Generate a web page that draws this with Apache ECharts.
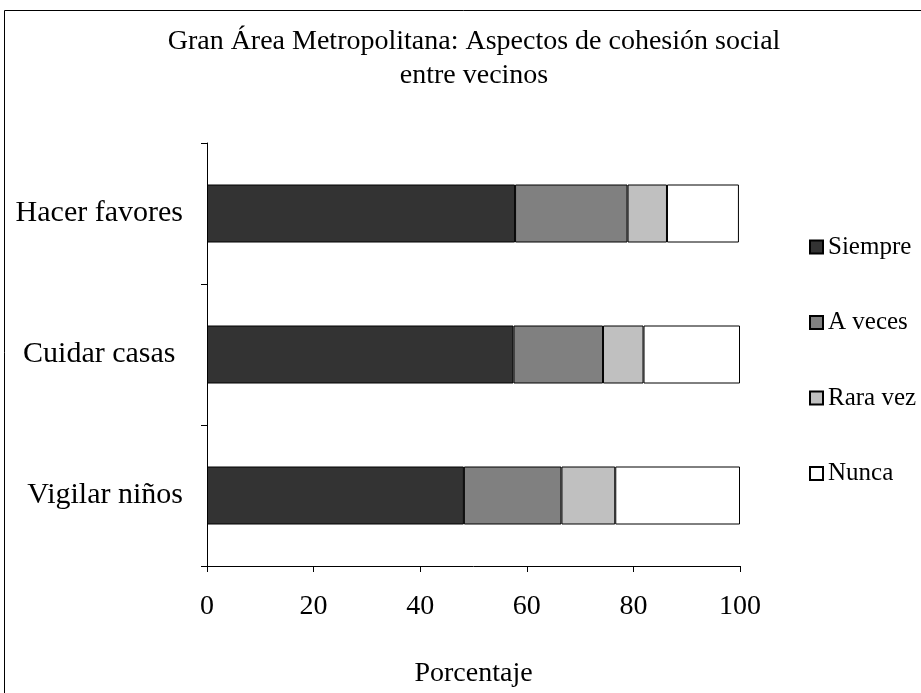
<!DOCTYPE html>
<html>
<head>
<meta charset="utf-8">
<script src="https://cdn.jsdelivr.net/npm/echarts@6/dist/echarts.min.js"></script>
<style>
html,body{margin:0;padding:0;background:#fff;}
#c{width:921px;height:693px;}
</style>
</head>
<body>
<div id="c"></div>
<script>
const categories = ['Hacer favores', 'Cuidar casas ', 'Vigilar niños'];
const seriesNames = ['Siempre', 'A veces', 'Rara vez', 'Nunca'];
const siempre = [57.8, 57.5, 48.2];
const aVeces = [21.1, 16.8, 18.3];
const raraVez = [7.4, 7.6, 10.1];
const nunca = [13.5, 18.1, 23.4];
const xTicks = [0, 20, 40, 60, 80, 100];
const colors = ['#333333', '#808080', '#c0c0c0', '#ffffff'];

const values = [siempre, aVeces, raraVez, nunca];
const font = 'Liberation Serif';
const chart = echarts.init(document.getElementById('c'));
chart.setOption({
  animation: false,
  backgroundColor: '#ffffff',
  graphic: [{
    type: 'rect',
    shape: {x: 4.5, y: 10.5, width: 1200, height: 1200},
    style: {fill: 'none', stroke: '#000', lineWidth: 1},
    silent: true, z: -1
  }],
  title: {
    text: 'Gran Área Metropolitana: Aspectos de cohesión social\nentre vecinos',
    left: 474, top: 25, textAlign: 'center', padding: 0,
    textStyle: {fontFamily: font, fontSize: 28, fontWeight: 'normal', color: '#000', lineHeight: 34}
  },
  legend: {
    orient: 'vertical', left: 809, top: 232, padding: 0,
    itemWidth: 13, itemHeight: 13, itemGap: 45.5, itemTextGap: 9,
    icon: 'rect',
    data: seriesNames,
    textStyle: {fontFamily: font, fontSize: 25, color: '#000', lineHeight: 30}
  },
  grid: {left: 207, right: 181, top: 143, bottom: 126},
  xAxis: {
    type: 'value', min: xTicks[0], max: xTicks[xTicks.length-1], interval: 20,
    name: 'Porcentaje', nameLocation: 'middle', nameGap: 94,
    nameTextStyle: {fontFamily: font, fontSize: 28, color: '#000'},
    axisLine: {show: true, lineStyle: {color: '#000', width: 1}},
    axisTick: {show: true, length: 6, lineStyle: {color: '#000'}},
    axisLabel: {fontFamily: font, fontSize: 28, color: '#000', margin: 27},
    splitLine: {show: false}
  },
  yAxis: {
    type: 'category', data: categories, inverse: true,
    axisLine: {show: true, lineStyle: {color: '#000', width: 1}},
    axisTick: {show: true, length: 6, lineStyle: {color: '#000'}},
    axisLabel: {fontFamily: font, fontSize: 30, color: '#000', margin: 24}
  },
  series: seriesNames.map((n, i) => ({
    name: n, type: 'bar', stack: 'total', barWidth: 58,
    data: values[i],
    itemStyle: {color: colors[i], borderColor: '#000', borderWidth: 1}
  }))
});
</script>
</body>
</html>
